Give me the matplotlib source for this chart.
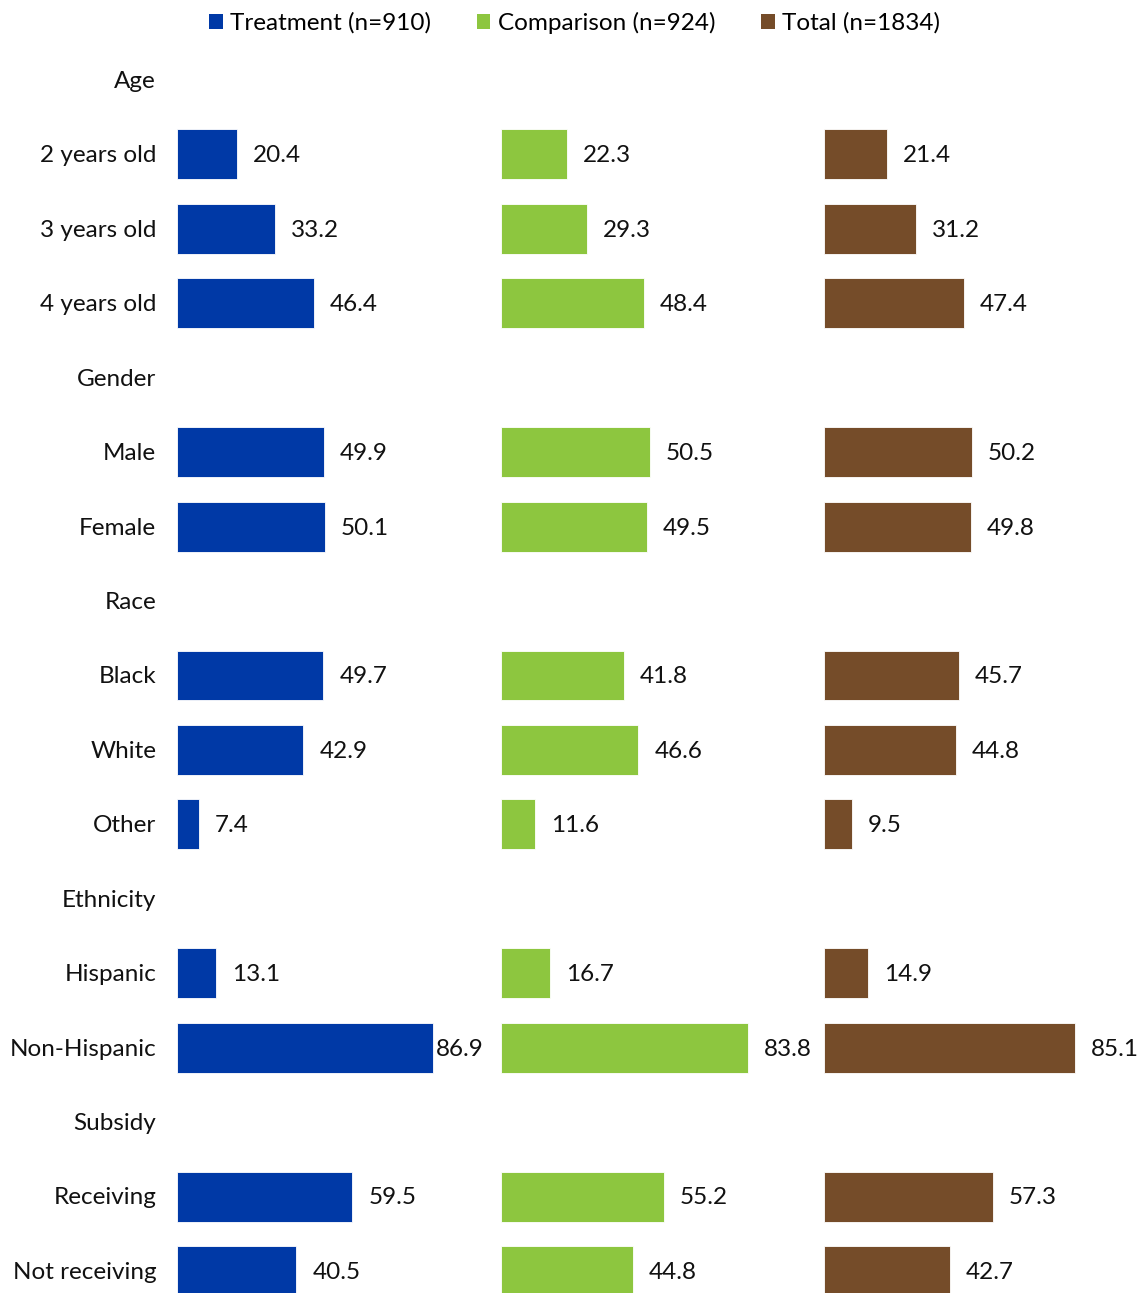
import numpy as np
import matplotlib.pyplot as plt
from matplotlib.patches import Patch

plt.rcParams['font.family'] = ['Lato', 'DejaVu Sans']

rowLabels = ['Age', '2 years old', '3 years old', '4 years old',
             'Gender', 'Male', 'Female',
             'Race', 'Black', 'White', 'Other',
             'Ethnicity', 'Hispanic', 'Non-Hispanic',
             'Subsidy', 'Receiving', 'Not receiving']
# None marks a group heading row
treatment = [None, 20.4, 33.2, 46.4, None, 49.9, 50.1, None, 49.7, 42.9, 7.4,
             None, 13.1, 86.9, None, 59.5, 40.5]
comparison = [None, 22.3, 29.3, 48.4, None, 50.5, 49.5, None, 41.8, 46.6, 11.6,
              None, 16.7, 83.8, None, 55.2, 44.8]
total = [None, 21.4, 31.2, 47.4, None, 50.2, 49.8, None, 45.7, 44.8, 9.5,
         None, 14.9, 85.1, None, 57.3, 42.7]
seriesNames = ['Treatment (n=910)', 'Comparison (n=924)', 'Total (n=1834)']
colors = ['#0039A6', '#8DC63F', '#754C29']

W, H = 1140, 1293
fig = plt.figure(figsize=(W / 100, H / 100), dpi=100)

rowStep = 74.45
topPx = 80 - 0.5 * rowStep
yBottom = 16 + (H - 1271) / rowStep
axH = (H - topPx) / H
panelLefts = [177, 501, 824]
panelW = 324
fontSize = 17.5

y = np.arange(len(rowLabels))
for p, (vals, color) in enumerate(zip([treatment, comparison, total], colors)):
    ax = fig.add_axes([panelLefts[p] / W, 0, panelW / W, axH])
    ax.set_xlim(0, 110)
    ax.set_ylim(yBottom, -0.5)
    ax.axis('off')
    for i, v in enumerate(vals):
        if v is None:
            continue
        ax.barh(y[i], v, height=0.67, color=color, edgecolor='white',
                linewidth=0.6, clip_on=False)
        # Excel squeezes the widest label up against its bar
        dx = 2 if v > 86 else 11.5
        ax.annotate('%.1f' % v, (v, y[i]), xytext=(dx, -1),
                    textcoords='offset points', ha='left', va='center',
                    fontsize=fontSize, color='#111111', annotation_clip=False)
    if p == 0:
        for i, lab in enumerate(rowLabels):
            ax.annotate(lab, (0, y[i]), xytext=(-15, -1),
                        textcoords='offset points', ha='right', va='center',
                        fontsize=fontSize, color='#111111',
                        annotation_clip=False)

handles = [Patch(facecolor=c, edgecolor='none') for c in colors]
fig.legend(handles, seriesNames, loc='center', bbox_to_anchor=(0.504, 1 - 23 / H),
           ncol=3, frameon=False, fontsize=fontSize, handlelength=0.55,
           handleheight=0.55, handletextpad=0.3, columnspacing=1.9)

fig.savefig('out.png', dpi=100)
